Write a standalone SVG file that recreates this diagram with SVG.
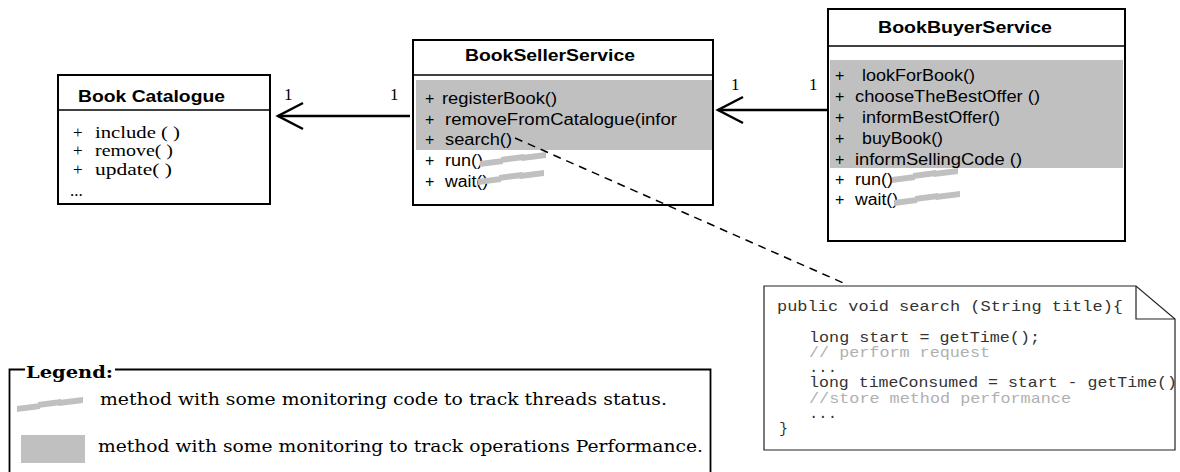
<svg xmlns="http://www.w3.org/2000/svg" xmlns:xlink="http://www.w3.org/1999/xlink" width="1180" height="472" viewBox="0 0 1180 472">
<style>
.box{fill:#fff;stroke:#000;stroke-width:2}
.div{stroke:#000;stroke-width:1.5}
.band{fill:#c0c0c0}
.title{font-family:"Liberation Sans",Arial,sans-serif;font-weight:bold;font-size:17px;fill:#000}
.m{font-family:"Liberation Sans",Arial,sans-serif;font-size:16px;fill:#000}
.s{font-family:"Liberation Serif","Times New Roman",serif;font-size:17px;fill:#000}
.code{font-family:"Liberation Mono","Courier New",monospace;font-size:15px;fill:#333}
.cm{fill:#b0b0b0}
.leg{font-family:"DejaVu Serif",serif;font-size:17px;fill:#000}
.assoc{stroke:#000;stroke-width:2.5;fill:none}
.dash{stroke:#000;stroke-width:1.5;stroke-dasharray:8 6;fill:none}
</style>
<defs>
<marker id="open" markerUnits="userSpaceOnUse" markerWidth="32" markerHeight="32" viewBox="-29 -16 32 32" refX="0" refY="0" orient="auto">
<path d="M-25,-13 L0,0 L-25,13" fill="none" stroke="#000" stroke-width="2.5"/>
</marker>
<path id="zz" d="M0,9 L23,6 L23,12 L0,15 Z M21,5 L44,2 L44,8 L21,11 Z M42,3 L66,0 L66,6 L42,9 Z" fill="#c0c0c0"/>
</defs>

<g id="node-catalogue">
<rect class="box" x="58" y="75" width="212" height="129"/>
<line class="div" x1="58" y1="110" x2="270" y2="110"/>
<text class="title" x="78" y="102" textLength="147" lengthAdjust="spacingAndGlyphs">Book Catalogue</text>
<text class="s" x="73" y="138">+</text>
<text class="s" x="95" y="138" textLength="85" lengthAdjust="spacingAndGlyphs">include ( )</text>
<text class="s" x="73" y="156">+</text>
<text class="s" x="95" y="156" textLength="78" lengthAdjust="spacingAndGlyphs">remove( )</text>
<text class="s" x="73" y="175">+</text>
<text class="s" x="95" y="175" textLength="77" lengthAdjust="spacingAndGlyphs">update( )</text>
<text class="s" x="70" y="196">...</text>
</g>

<g id="node-seller">
<rect class="box" x="413" y="40" width="300" height="165"/>
<line class="div" x1="413" y1="75" x2="713" y2="75"/>
<rect class="band" x="416" y="80" width="296" height="70"/>
<text class="title" x="465" y="61" textLength="170" lengthAdjust="spacingAndGlyphs">BookSellerService</text>
<text class="m" x="425" y="104">+</text>
<text class="m" x="442" y="104" textLength="115" lengthAdjust="spacingAndGlyphs">registerBook()</text>
<text class="m" x="425" y="125">+</text>
<text class="m" x="445" y="125" textLength="232" lengthAdjust="spacingAndGlyphs">removeFromCatalogue(infor</text>
<text class="m" x="425" y="145">+</text>
<text class="m" x="445" y="145" textLength="67" lengthAdjust="spacingAndGlyphs">search()</text>
<text class="m" x="425" y="166">+</text>
<text class="m" x="445" y="166" textLength="38" lengthAdjust="spacingAndGlyphs">run()</text>
<text class="m" x="425" y="187">+</text>
<text class="m" x="445" y="187" textLength="43" lengthAdjust="spacingAndGlyphs">wait()</text>
<use xlink:href="#zz" href="#zz" x="480" y="152"/>
<use xlink:href="#zz" href="#zz" x="478" y="170"/>
</g>

<g id="node-buyer">
<rect class="box" x="828" y="9" width="297" height="232"/>
<line class="div" x1="828" y1="46" x2="1125" y2="46"/>
<rect class="band" x="830" y="60" width="293" height="108"/>
<text class="title" x="878" y="33" textLength="174" lengthAdjust="spacingAndGlyphs">BookBuyerService</text>
<text class="m" x="835" y="81">+</text>
<text class="m" x="862" y="81" textLength="113" lengthAdjust="spacingAndGlyphs">lookForBook()</text>
<text class="m" x="835" y="102">+</text>
<text class="m" x="855" y="102" textLength="185" lengthAdjust="spacingAndGlyphs">chooseTheBestOffer ()</text>
<text class="m" x="835" y="123">+</text>
<text class="m" x="862" y="123" textLength="138" lengthAdjust="spacingAndGlyphs">informBestOffer()</text>
<text class="m" x="835" y="144">+</text>
<text class="m" x="862" y="144" textLength="81" lengthAdjust="spacingAndGlyphs">buyBook()</text>
<text class="m" x="835" y="165">+</text>
<text class="m" x="855" y="165" textLength="167" lengthAdjust="spacingAndGlyphs">informSellingCode ()</text>
<text class="m" x="835" y="185">+</text>
<text class="m" x="855" y="185" textLength="38" lengthAdjust="spacingAndGlyphs">run()</text>
<text class="m" x="835" y="205">+</text>
<text class="m" x="855" y="205" textLength="43" lengthAdjust="spacingAndGlyphs">wait()</text>
<use xlink:href="#zz" href="#zz" x="892" y="168"/>
<use xlink:href="#zz" href="#zz" x="894" y="191"/>
</g>

<g id="connectors">
<line class="assoc" x1="410" y1="116" x2="278" y2="116" marker-end="url(#open)"/>
<line class="assoc" x1="827" y1="110" x2="718" y2="110" marker-end="url(#open)"/>
<line class="dash" x1="515" y1="138" x2="848" y2="285"/>
<text class="s" x="284" y="100">1</text>
<text class="s" x="390" y="100">1</text>
<text class="s" x="731" y="90">1</text>
<text class="s" x="809" y="90">1</text>
</g>

<g id="node-note">
<path d="M764,286 H1136 L1175,319 V450 H764 Z" fill="#fff" stroke="#222" stroke-width="1.2"/>
<path d="M1136,286 V319 H1175" fill="none" stroke="#222" stroke-width="1.2"/>
<text class="code" x="777" y="311" textLength="346" lengthAdjust="spacingAndGlyphs">public void search (String title){</text>
<text class="code" x="809" y="342" textLength="231" lengthAdjust="spacingAndGlyphs">long start = getTime();</text>
<text class="code cm" x="809" y="357" textLength="181" lengthAdjust="spacingAndGlyphs">// perform request</text>
<text class="code" x="809" y="372" textLength="28" lengthAdjust="spacingAndGlyphs">...</text>
<text class="code" x="809" y="387" textLength="368" lengthAdjust="spacingAndGlyphs">long timeConsumed = start - getTime()</text>
<text class="code cm" x="809" y="403" textLength="262" lengthAdjust="spacingAndGlyphs">//store method performance</text>
<text class="code" x="809" y="418" textLength="28" lengthAdjust="spacingAndGlyphs">...</text>
<text class="code" x="779" y="433" fill="#555">}</text>
</g>

<g id="legend">
<path d="M25,369.5 H9.5 V476 M115,369.5 H710.5 V476" fill="none" stroke="#000" stroke-width="1.8"/>
<text class="leg" x="26" y="378" font-weight="bold" font-size="19" textLength="87" lengthAdjust="spacingAndGlyphs">Legend:</text>
<use xlink:href="#zz" href="#zz" x="17" y="397"/>
<text class="leg" x="100" y="405" textLength="567" lengthAdjust="spacingAndGlyphs">method with some monitoring code to track threads status.</text>
<rect class="band" x="21" y="435" width="64" height="28"/>
<text class="leg" x="98" y="452" textLength="605" lengthAdjust="spacingAndGlyphs">method with some monitoring to track operations Performance.</text>
</g>
</svg>
